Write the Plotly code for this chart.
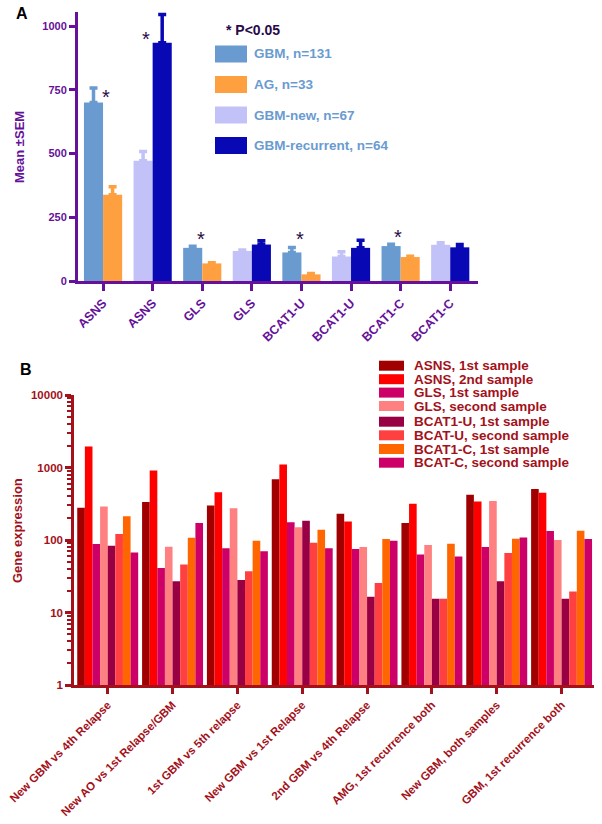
import plotly.graph_objects as go

W, H = 602, 824
FONT = "Arial, Liberation Sans, sans-serif"

# ---------------- Panel A data ----------------
a_categories = ["ASNS", "ASNS", "GLS", "GLS", "BCAT1-U", "BCAT1-U", "BCAT1-C", "BCAT1-C"]
a_series = ["GBM, n=131", "AG, n=33", "GBM-new, n=67", "GBM-recurrent, n=64"]
gbm_mean = [700, 130, 112, 137]
gbm_sem = [57, 6, 19, 7]
ag_mean = [338, 69, 26, 94]
ag_sem = [32, 3, 3, 3]
gbmnew_mean = [472, 118, 96, 142]
gbmnew_sem = [36, 4, 19, 8]
gbmrec_mean = [934, 143, 130, 132]
gbmrec_sem = [111, 15, 30, 11]
a_yticks = [0, 250, 500, 750, 1000]
# significance stars: (category index, x shift in categories, value level)
a_stars = [(0, 0.06, 672), (1, -0.13, 897), (2, -0.02, 115), (4, -0.02, 115), (6, -0.05, 122)]

# ---------------- Panel B data ----------------
b_categories = ["New GBM vs 4th Relapse", "New AO vs 1st Relapse/GBM", "1st GBM vs 5th relapse",
                "New GBM vs 1st Relapse", "2nd GBM vs 4th Relapse", "AMG, 1st recurrence both",
                "New GBM, both samples", "GBM, 1st recurrence both"]
b_series = ["ASNS, 1st sample", "ASNS, 2nd sample", "GLS, 1st sample", "GLS, second sample",
            "BCAT1-U, 1st sample", "BCAT-U, second sample", "BCAT1-C, 1st sample", "BCAT-C, second sample"]
asns_1 = [278, 335, 298, 690, 231, 172, 420, 505]
asns_2 = [1950, 910, 455, 1100, 180, 315, 340, 450]
gls_1 = [88, 41, 77, 176, 75, 63, 80, 133]
gls_2 = [290, 81, 275, 150, 80, 85, 345, 100]
bcat1u_1 = [83, 27, 28, 185, 16.5, 15.5, 27, 15.5]
bcatu_2 = [121, 46, 37, 92, 25.5, 15.5, 66, 19.5]
bcat1c_1 = [212, 107, 98, 138, 103, 89, 104, 134]
bcatc_2 = [67, 172, 70, 77, 98, 59, 108, 103]
b_values = [asns_1, asns_2, gls_1, gls_2, bcat1u_1, bcatu_2, bcat1c_1, bcatc_2]
b_yticks = [1, 10, 100, 1000, 10000]

# ---------------- styles ----------------
a_colors = ["#6a9bd0", "#ffa040", "#c2c2f8", "#0808b4"]
b_colors = ["#a00000", "#ff0000", "#cc0066", "#ff8080", "#990044", "#ff4040", "#ff6600", "#cc0066"]
PURPLE = "#66119a"
DARKRED = "#a3111a"


def px(x):
    return x / W


def py(y):
    return 1 - y / H


fig = go.Figure()

# Panel A bars
a_x = list(range(len(a_categories)))
bw = 0.385
a_specs = [
    (a_x[0::2], gbm_mean, gbm_sem, -bw),
    (a_x[0::2], ag_mean, ag_sem, 0.0),
    (a_x[1::2], gbmnew_mean, gbmnew_sem, -bw),
    (a_x[1::2], gbmrec_mean, gbmrec_sem, 0.0),
]
for (xs, m, s, off), name, col in zip(a_specs, a_series, a_colors):
    fig.add_trace(go.Bar(
        x=xs, y=m, name=name, width=bw, offset=off, marker=dict(color=col, line=dict(width=0)),
        error_y=dict(type="data", array=s, arrayminus=[0] * len(s), symmetric=False,
                     color=col, thickness=3.5, width=4),
        xaxis="x", yaxis="y", showlegend=False))

# Panel B bars
b_x = list(range(len(b_categories)))
n = len(b_series)
gw = 0.94
w = gw / n
for i, (vals, name, col) in enumerate(zip(b_values, b_series, b_colors)):
    fig.add_trace(go.Bar(
        x=b_x, y=vals, name=name, width=w, offset=-gw / 2 + i * w,
        marker=dict(color=col, line=dict(width=0)),
        xaxis="x2", yaxis="y2", showlegend=False))

annotations = []
shapes = []

# stars
for ci, dx, lvl in a_stars:
    annotations.append(dict(x=a_x[ci] + dx, y=lvl, xref="x", yref="y", text="*", showarrow=False,
                            font=dict(family=FONT, size=20, color="#2a0a48"), yanchor="bottom"))

# Panel A legend (manual)
annotations.append(dict(x=px(224), y=py(30), xref="paper", yref="paper", text="<b>* P<0.05</b>",
                        showarrow=False, xanchor="left", yanchor="middle",
                        font=dict(family=FONT, size=14, color="#2a0a48")))
a_rows = [54, 84.5, 115, 145.5]
for yc, name, col in zip(a_rows, a_series, a_colors):
    shapes.append(dict(type="rect", xref="paper", yref="paper", x0=px(215), x1=px(247),
                       y0=py(yc - 8.5), y1=py(yc + 8.5), fillcolor=col, line=dict(width=0)))
    annotations.append(dict(x=px(252), y=py(yc), xref="paper", yref="paper", text=f"<b>{name}</b>",
                            showarrow=False, xanchor="left", yanchor="middle",
                            font=dict(family=FONT, size=13.5, color="#6a9bd0")))

# Panel B legend (manual)
b_rows = [365.7, 379.2, 392.6, 406, 421.7, 435.3, 449, 462.7]
for yc, name, col in zip(b_rows, b_series, b_colors):
    shapes.append(dict(type="rect", xref="paper", yref="paper", x0=px(379), x1=px(404),
                       y0=py(yc - 5), y1=py(yc + 5), fillcolor=col, line=dict(width=0)))
    annotations.append(dict(x=px(412), y=py(yc), xref="paper", yref="paper", text=f"<b>{name}</b>",
                            showarrow=False, xanchor="left", yanchor="middle",
                            font=dict(family=FONT, size=13.5, color=DARKRED)))

# panel labels and axis titles
annotations += [
    dict(x=px(14), y=py(14), xref="paper", yref="paper", text="<b>A</b>", showarrow=False,
         xanchor="left", yanchor="middle", font=dict(family=FONT, size=16, color="black")),
    dict(x=px(18), y=py(369), xref="paper", yref="paper", text="<b>B</b>", showarrow=False,
         xanchor="left", yanchor="middle", font=dict(family=FONT, size=16, color="black")),
    dict(x=px(20), y=py(147), xref="paper", yref="paper", text="<b>Mean ±SEM</b>", showarrow=False,
         textangle=-90, xanchor="center", yanchor="middle", font=dict(family=FONT, size=13, color=PURPLE)),
    dict(x=px(17), y=py(531), xref="paper", yref="paper", text="<b>Gene expression</b>", showarrow=False,
         textangle=-90, xanchor="center", yanchor="middle", font=dict(family=FONT, size=13, color=DARKRED)),
]

fig.update_layout(
    width=W, height=H, margin=dict(l=0, r=0, t=0, b=0, autoexpand=False),
    paper_bgcolor="white", plot_bgcolor="white", barmode="overlay",
    showlegend=False, annotations=annotations, shapes=shapes,
    xaxis=dict(domain=[px(78), px(478)], range=[-0.505, 7.56], anchor="y", automargin=False,
               tickmode="array", tickvals=a_x, ticktext=[f"<b>{c}</b>" for c in a_categories],
               tickangle=-45, ticks="outside", ticklen=7, tickwidth=3, tickcolor=PURPLE,
               showline=True, linecolor=PURPLE, linewidth=3, showgrid=False, zeroline=False,
               tickfont=dict(family=FONT, size=12.5, color=PURPLE)),
    yaxis=dict(domain=[py(281), py(12)], range=[0, 1055], anchor="x", automargin=False,
               tickmode="array", tickvals=a_yticks, ticktext=[f"<b>{t}</b>" for t in a_yticks],
               ticks="outside", ticklen=6, tickwidth=3, tickcolor=PURPLE,
               showline=True, linecolor=PURPLE, linewidth=3, showgrid=False, zeroline=False,
               tickfont=dict(family=FONT, size=11, color=PURPLE)),
    xaxis2=dict(domain=[px(74), px(594)], range=[-0.52, 7.5], anchor="y2", automargin=False,
                tickmode="array", tickvals=b_x, ticktext=[f"<b>{c}</b>" for c in b_categories],
                tickangle=-45, ticks="outside", ticklen=6, tickwidth=2.5, tickcolor=DARKRED,
                showline=True, linecolor=DARKRED, linewidth=2.5, showgrid=False, zeroline=False,
                tickfont=dict(family=FONT, size=11.5, color=DARKRED)),
    yaxis2=dict(domain=[py(685), py(395)], type="log", range=[0, 4], anchor="x2", automargin=False,
                tickmode="array", tickvals=b_yticks, ticktext=[f"<b>{t}</b>" for t in b_yticks],
                ticks="outside", ticklen=6, tickwidth=2.5, tickcolor=DARKRED,
                minor=dict(ticks="outside", ticklen=4, tickwidth=1.5, tickcolor=DARKRED, showgrid=False,
                           tickvals=[m * 10 ** e for e in range(4) for m in range(2, 10)]),
                showline=True, linecolor=DARKRED, linewidth=2.5, showgrid=False, zeroline=False,
                tickfont=dict(family=FONT, size=11.5, color=DARKRED)),
)

fig.write_html("out.html", config={"displayModeBar": False},
               post_script="document.body.style.margin='0';document.body.style.overflow='hidden';")
